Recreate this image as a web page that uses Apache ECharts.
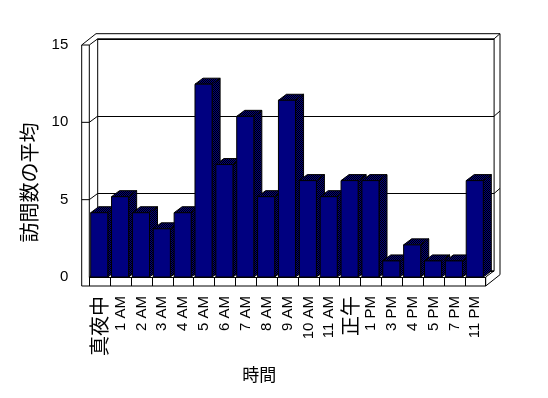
<!DOCTYPE html>
<html>
<head>
<meta charset="utf-8">
<title>訪問数の平均</title>
<script src="https://cdn.jsdelivr.net/npm/echarts@6/dist/echarts.min.js"></script>
<style>
  html, body { margin: 0; background: #fff; }
  #main { width: 548px; height: 398px; }
</style>
</head>
<body>
<div id="main"></div>
<script>
var hours = ['真夜中', '1 AM', '2 AM', '3 AM', '4 AM', '5 AM', '6 AM', '7 AM', '8 AM', '9 AM',
             '10 AM', '11 AM', '正午', '1 PM', '3 PM', '4 PM', '5 PM', '7 PM', '11 PM'];
var visits = [4, 5, 4, 3, 4, 12, 7, 10, 5, 11, 6, 5, 6, 6, 1, 2, 1, 1, 6];
var yMin = 0, yMax = 15, yStep = 5;
var yName = '訪問数の平均';
var xName = '時間';

// 2x2 checker of navy/black, like the dithered shading on the bar sides
function ditherPattern() {
    var c = document.createElement('canvas');
    c.width = 2; c.height = 2;
    var g = c.getContext('2d');
    g.fillStyle = '#000080';
    g.fillRect(0, 0, 2, 2);
    g.fillStyle = '#000000';
    g.fillRect(0, 0, 1, 1);
    g.fillRect(1, 1, 1, 1);
    return c;
}
var shade = { image: ditherPattern(), repeat: 'repeat' };

// depth offsets of the 3d box
var wall = 7.6, floorH = 9;
var bx = 8.4, by = -6.2;     // front -> back inner face
var ox = 14.3, oy = -11.3;   // front -> back outer edge

function renderFrame(params, api) {
    var band = api.size([1, 0])[0];
    var L = api.coord([0, 0])[0] - band / 2;
    var R = api.coord([hours.length - 1, 0])[0] + band / 2;
    var B = api.coord([0, yMin])[1];
    var T = api.coord([0, yMax])[1];
    var kids = [];
    function seg(a, b) {
        kids.push({ type: 'line', shape: { x1: a[0], y1: a[1], x2: b[0], y2: b[1] },
                    style: { stroke: '#000', lineWidth: 1 } });
    }
    // left wall
    seg([L - wall, T], [L - wall, B + floorH]);
    seg([L, T], [L, B]);
    seg([L - wall, T], [L, T]);
    seg([L - wall, T], [L - wall + ox, T + oy]);
    seg([L, T], [L + bx, T + by]);
    // back wall outer edge
    seg([L - wall + ox, T + oy], [R + ox, T + oy]);
    seg([R + ox, T + oy], [R + ox, B + floorH + oy]);
    seg([R + bx, T + by], [R + ox, T + oy]);
    // floor
    seg([L - wall, B + floorH], [R, B + floorH]);
    seg([R, B], [R, B + floorH]);
    seg([R, B], [R + bx, B + by]);
    seg([R, B + floorH], [R + ox, B + floorH + oy]);
    seg([L, B], [L + bx, B + by]);
    // gridline stubs on the side walls
    for (var v = yMin + yStep; v < yMax; v += yStep) {
        var y = api.coord([0, v])[1];
        seg([L - wall, y], [L, y]);
        seg([L, y], [L + bx, y + by]);
        seg([R + bx, y + by], [R + ox, y + oy]);
    }
    return { type: 'group', children: kids };
}

function renderBar(params, api) {
    var i = api.value(0), v = api.value(1);
    var base = api.coord([i, 0]);
    var top = api.coord([i, v]);
    var band = api.size([1, 0])[0];
    var w = band * 0.82;
    var x0 = base[0] - w / 2 - 0.5, x1 = x0 + w;
    var yt = top[1], yb = base[1];
    var dx = 8, dy = -6;
    return {
        type: 'group',
        children: [
            { type: 'polygon', shape: { points: [[x1, yt], [x1 + dx, yt + dy], [x1 + dx, yb + dy], [x1, yb]] },
              style: { fill: shade, stroke: '#000', lineWidth: 1 } },
            { type: 'polygon', shape: { points: [[x0, yt], [x0 + dx, yt + dy], [x1 + dx, yt + dy], [x1, yt]] },
              style: { fill: shade, stroke: '#000', lineWidth: 1 } },
            { type: 'rect', shape: { x: x0, y: yt, width: w, height: yb - yt },
              style: { fill: '#000080', stroke: '#000', lineWidth: 1 } }
        ]
    };
}

var myChart = echarts.init(document.getElementById('main'));
var option = {
    backgroundColor: '#fff',
    animation: false,
    textStyle: { fontFamily: 'Liberation Sans' },
    grid: [
        // front plane (axes, floor)
        { left: 89.3, right: 62.3, top: 45, bottom: 121 },
        // back wall
        { left: 97.7, right: 53.9, top: 38.8, bottom: 127.2, show: true,
          borderColor: '#000', borderWidth: 1, backgroundColor: 'transparent' },
        // plane where the bars stand
        { left: 89.3, right: 62.3, top: 36, bottom: 121 }
    ],
    xAxis: [
        {
            gridIndex: 0, type: 'category', data: hours, boundaryGap: true,
            axisLine: { show: true, lineStyle: { color: '#000', width: 1 } },
            axisTick: { show: true, length: 9, inside: false, lineStyle: { color: '#000' } },
            axisLabel: {
                rotate: 90, margin: 19, fontSize: 15, color: '#000', interval: 0,
                fontFamily: 'Liberation Sans',
                formatter: function (s) {
                    return /[^\x00-\x7f]/.test(s) ? '{cjk|' + s + '}' : s;
                },
                rich: { cjk: { fontSize: 20, fontFamily: 'Noto Sans CJK JP', color: '#000' } }
            }
        },
        { gridIndex: 1, type: 'category', data: hours, show: false },
        { gridIndex: 2, type: 'category', data: hours, show: false }
    ],
    yAxis: [
        {
            gridIndex: 0, type: 'value', min: yMin, max: yMax, interval: yStep,
            axisLine: { show: false }, axisTick: { show: false }, splitLine: { show: false },
            axisLabel: { margin: 21, fontSize: 15, color: '#000', fontFamily: 'Liberation Sans' }
        },
        {
            gridIndex: 1, type: 'value', min: yMin, max: yMax, interval: yStep,
            axisLine: { show: false }, axisTick: { show: false }, axisLabel: { show: false },
            splitLine: { show: true, lineStyle: { color: '#000', width: 1 } }
        },
        { gridIndex: 2, type: 'value', min: yMin, max: yMax, show: false }
    ],
    graphic: [
        { type: 'text', x: 29, y: 182.5, rotation: Math.PI / 2,
          style: { text: yName, font: '20px "Noto Sans CJK JP"', fill: '#000',
                   align: 'center', verticalAlign: 'middle' } },
        { type: 'text', x: 259.3, y: 374.3,
          style: { text: xName, font: '17px "Noto Sans CJK JP"', fill: '#000',
                   align: 'center', verticalAlign: 'middle' } }
    ],
    series: [
        {
            type: 'custom', xAxisIndex: 0, yAxisIndex: 0, silent: true, z: 1,
            renderItem: renderFrame, data: [[0, 0]]
        },
        {
            name: yName, type: 'custom', xAxisIndex: 2, yAxisIndex: 2, z: 3,
            renderItem: renderBar,
            data: visits.map(function (v, i) { return [i, v]; })
        }
    ]
};
myChart.setOption(option);
</script>
</body>
</html>
